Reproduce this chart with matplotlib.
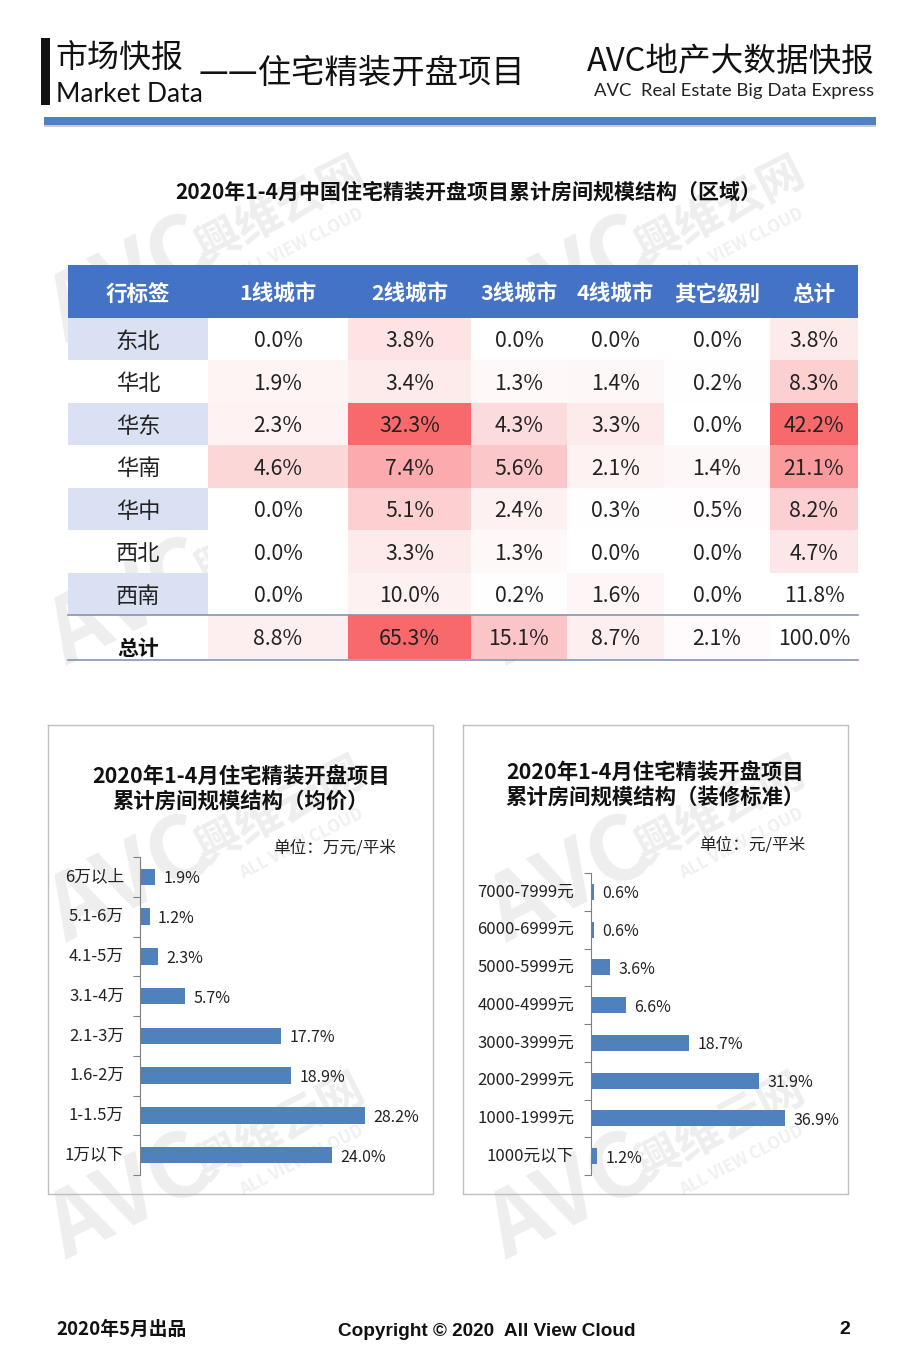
import numpy as np
import matplotlib
matplotlib.use('Agg')
import matplotlib.pyplot as plt
from matplotlib.colors import LinearSegmentedColormap, Normalize
from matplotlib.transforms import ScaledTranslation

plt.rcParams['font.family'] = ['Noto Sans CJK SC', 'DejaVu Sans']

# table data
regions = ['东北', '华北', '华东', '华南', '华中', '西北', '西南']
col_names = ['行标签', '1线城市', '2线城市', '3线城市', '4线城市', '其它级别', '总计']
tier1 = [0.0, 1.9, 2.3, 4.6, 0.0, 0.0, 0.0]
tier2 = [3.8, 3.4, 32.3, 7.4, 5.1, 3.3, 10.0]
tier3 = [0.0, 1.3, 4.3, 5.6, 2.4, 1.3, 0.2]
tier4 = [0.0, 1.4, 3.3, 2.1, 0.3, 0.0, 1.6]
other = [0.0, 0.2, 0.0, 1.4, 0.5, 0.0, 0.0]
region_total = [3.8, 8.3, 42.2, 21.1, 8.2, 4.7, 11.8]
tier_total = [8.8, 65.3, 15.1, 8.7, 2.1, 100.0]

# bar data
price_labels = ['6万以上', '5.1-6万', '4.1-5万', '3.1-4万', '2.1-3万', '1.6-2万', '1-1.5万', '1万以下']
price_values = [1.9, 1.2, 2.3, 5.7, 17.7, 18.9, 28.2, 24.0]
deco_labels = ['7000-7999元', '6000-6999元', '5000-5999元', '4000-4999元', '3000-3999元',
               '2000-2999元', '1000-1999元', '1000元以下']
deco_values = [0.6, 0.6, 3.6, 6.6, 18.7, 31.9, 36.9, 1.2]

BLUE = '#4f81bd'
fig = plt.figure(figsize=(9.08, 13.61), dpi=100)

# full page axes in pixels
page = fig.add_axes([0, 0, 1, 1])
page.set_xlim(0, 908)
page.set_ylim(1361, 0)
page.axis('off')

# watermarks
for wx, wy in [(55, 345), (495, 345), (55, 668), (495, 668), (55, 945), (495, 945), (55, 1262), (495, 1262)]:
    page.text(wx + 20, wy + 15, 'AVC', fontsize=64, fontweight='bold', color='#eeeeee', rotation=27,
              ha='left', va='bottom', rotation_mode='anchor', zorder=0)
    page.text(wx + 154, wy - 72, '興维云网', fontsize=33, fontweight='bold', color='#eeeeee', rotation=27,
              ha='left', va='bottom', rotation_mode='anchor', zorder=0)
    page.text(wx + 190, wy - 62, 'ALL VIEW CLOUD', fontsize=12, fontweight='bold', color='#f0f0f0', rotation=27,
              ha='left', va='bottom', rotation_mode='anchor', zorder=0)

# page header
page.fill_between([41, 50], 38, 105, color='#111111', zorder=3, lw=0)
page.fill_between([44, 876], 125, 127, color='#cccccc', zorder=2, lw=0)
page.fill_between([44, 876], 117, 125, color=BLUE, zorder=3, lw=0)
page.text(55, 59, '市场快报', fontsize=23, color='#111111', va='center')
page.text(56, 94, 'Market Data', fontsize=19, color='#111111', va='center', family=['Lato', 'Noto Sans CJK SC'])
page.text(198, 73, '——住宅精装开盘项目', fontsize=24, color='#111111', va='center')
page.text(875, 62, 'AVC地产大数据快报', fontsize=23.5, color='#111111', va='center', ha='right')
page.text(874, 91, 'AVC  Real Estate Big Data Express', fontsize=13.3, color='#222222', va='center', ha='right',
          family=['Lato', 'Noto Sans CJK SC'])

page.text(468, 192, '2020年1-4月中国住宅精装开盘项目累计房间规模结构（区域）', fontsize=15.1, fontweight='bold',
          ha='center', va='center', color='#111111')

# table
x_edges = np.array([68, 208, 348, 471, 567, 664, 770, 858])
y_edges = np.array([318, 360, 403, 445, 488, 530, 573, 615, 659])
body_cmap = LinearSegmentedColormap.from_list('body', [(0, '#ffffff'), (0.1, '#fdecec'), (0.23, '#fbaaac'), (1, '#f8696b')])
total_cmap = LinearSegmentedColormap.from_list('total', [(0, '#ffffff'), (0.11, '#fde6e8'), (0.19, '#fcd0d2'),
                                                         (0.5, '#fa9a9c'), (1, '#f8696b')])
foot_cmap = LinearSegmentedColormap.from_list('foot', [(0, '#ffffff'), (0.135, '#fdeef0'), (0.23, '#fbc5c7'), (1, '#f8696b')])

page.fill_between([68, 858], 265, 318, color='#4472c4', lw=0, zorder=1)
for i, name in enumerate(col_names):
    page.text((x_edges[i] + x_edges[i + 1]) / 2, 294, name, color='white', fontsize=15.5, fontweight='bold',
              ha='center', va='center', zorder=4)

body = np.array([tier1, tier2, tier3, tier4, other]).T
# these two cells are almost unshaded in the picture
body_col = np.ma.masked_equal(body, 10.0)
total_col = np.ma.masked_equal(np.array(region_total).reshape(-1, 1), 11.8)

page.fill_between(x_edges[2:4], y_edges[6], y_edges[7], color='#fef1f1', lw=0, zorder=1)
page.pcolormesh(x_edges[1:7], y_edges[:8], body_col, cmap=body_cmap, norm=Normalize(0, 32.3), zorder=1)
page.pcolormesh(x_edges[6:], y_edges[:8], total_col, cmap=total_cmap, norm=Normalize(0, 42.2), zorder=1)
page.pcolormesh(x_edges[1:7], y_edges[7:], np.array(tier_total[:5]).reshape(1, -1), cmap=foot_cmap,
                norm=Normalize(0, 65.3), zorder=1)

for r, name in enumerate(regions):
    if r % 2 == 0:
        page.fill_between([68, 208], y_edges[r], y_edges[r + 1], color='#d9e1f2', lw=0, zorder=1)
    yc = (y_edges[r] + y_edges[r + 1]) / 2 + 2
    page.text(138, yc, name, fontsize=16, ha='center', va='center', color='#222222', zorder=4)
    for c in range(5):
        page.text((x_edges[c + 1] + x_edges[c + 2]) / 2, yc, '%.1f%%' % body[r, c], fontsize=15.3,
                  ha='center', va='center', color='#222222', zorder=4)
    page.text(814, yc, '%.1f%%' % region_total[r], fontsize=15.3, ha='center', va='center', color='#222222', zorder=4)

page.text(138, 648, '总计', fontsize=15, fontweight='bold', ha='center', va='center', color='#111111', zorder=4)
for c, v in enumerate(tier_total):
    page.text((x_edges[c + 1] + x_edges[c + 2]) / 2, 639, '%.1f%%' % v, fontsize=15.3,
              ha='center', va='center', color='#222222', zorder=4)
page.plot([68, 858], [615, 615], color='#8496b0', lw=1.2, zorder=3)
page.plot([68, 858], [659.5, 659.5], color='#8496b0', lw=1.2, zorder=3)

# chart frames
for left, right in [(48, 433), (463, 848)]:
    page.plot([left, right, right, left, left], [725, 725, 1194, 1194, 725], color='#bfbfbf', lw=1, zorder=2)

page.text(241, 789, '2020年1-4月住宅精装开盘项目\n累计房间规模结构（均价）', fontsize=15.4, fontweight='bold',
          ha='center', va='center', linespacing=1.2, color='#111111')
page.text(655, 785, '2020年1-4月住宅精装开盘项目\n累计房间规模结构（装修标准）', fontsize=15.4, fontweight='bold',
          ha='center', va='center', linespacing=1.2, color='#111111')
page.text(335, 848, '单位：万元/平米', fontsize=12, ha='center', va='center', color='#222222')
page.text(752, 845, '单位：元/平米', fontsize=12, ha='center', va='center', color='#222222')

# footer
page.text(56, 1329, '2020年5月出品', fontsize=13.5, fontweight='bold', va='center', color='#111111')
page.text(487, 1331, 'Copyright © 2020  All View Cloud', fontsize=13.7, fontweight='bold', ha='center', va='center',
          color='#111111', family=['Liberation Sans', 'Noto Sans CJK SC'])
page.text(845, 1329, '2', fontsize=14, fontweight='bold', ha='center', va='center', color='#111111',
          family=['Liberation Sans', 'Noto Sans CJK SC'])


def bar_panel(labels, values, x0, y0, x1, y1, xmax, pad, label_size):
    ax = fig.add_axes([x0 / 908, 1 - y1 / 1361, (x1 - x0) / 908, (y1 - y0) / 1361])
    ax.patch.set_alpha(0)
    pos = np.arange(len(labels))
    ax.barh(pos, values, height=0.42, color=BLUE)
    ax.set_ylim(len(labels) - 0.5, -0.5)
    ax.set_xlim(0, xmax)
    ax.set_yticks(pos)
    ax.set_yticklabels(labels, fontsize=label_size, color='#222222')
    ax.set_yticks(np.arange(len(labels) + 1) - 0.5, minor=True)
    ax.tick_params(axis='y', which='major', length=0, pad=pad)
    ax.tick_params(axis='y', which='minor', length=5, color='#808080', width=0.8)
    ax.set_xticks([])
    for s in ['top', 'right', 'bottom']:
        ax.spines[s].set_visible(False)
    ax.spines['left'].set_color('#808080')
    # category labels sit slightly above the bars
    nudge = ScaledTranslation(0, 2 / 100, fig.dpi_scale_trans)
    for lab in ax.get_yticklabels():
        lab.set_transform(lab.get_transform() + nudge)
    for p, v in zip(pos, values):
        ax.annotate('%.1f%%' % v, (v, p), xytext=(6, -1.5), textcoords='offset points', fontsize=11.5,
                    va='center', ha='left', color='#222222')
    return ax


bar_panel(price_labels, price_values, 140, 857, 420, 1175, 280 / 7.98, 11.5, 12)
bar_panel(deco_labels, deco_values, 591, 873, 840, 1175, 249 / 5.26, 12, 12)

fig.savefig('out.png', dpi=100)
